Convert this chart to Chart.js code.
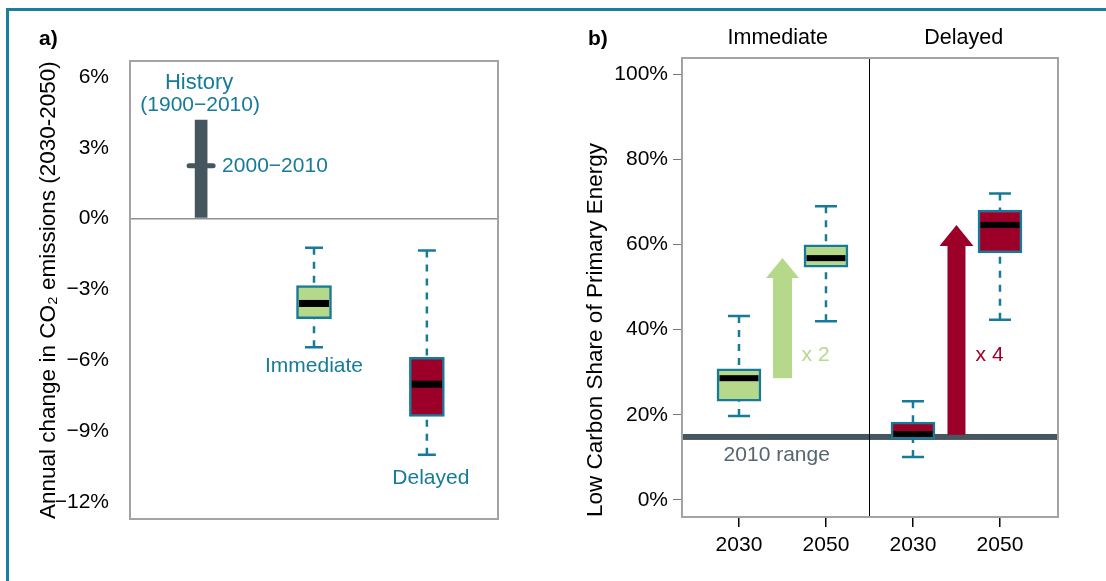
<!DOCTYPE html>
<html>
<head>
<meta charset="utf-8">
<script src="https://cdn.jsdelivr.net/npm/chart.js@4.4.1/dist/chart.umd.min.js"></script>
<style>
  html, body { margin: 0; padding: 0; background: #fff; }
  #frame { position: relative; width: 1106px; height: 581px; overflow: hidden; background: #fff; }
  #edge { position: absolute; left: 6px; top: 8px; right: -10px; bottom: -10px;
          border-top: 3px solid #1a7f9c; border-left: 3px solid #1a7f9c; }
  #panelA { position: absolute; left: 0; top: 0; }
  #panelB { position: absolute; left: 560px; top: 0; }
</style>
</head>
<body>
<div id="frame">
  <div id="edge"></div>
  <canvas id="panelA" width="560" height="581"></canvas>
  <canvas id="panelB" width="546" height="581"></canvas>
</div>
<script>
// a) annual change in CO2 emissions 2030-2050 (%)
const groupsA = ["Immediate", "Delayed"];
const posA = [2, 3];
const lowA = [-5.45, -10.0];
const q1A = [-4.23, -8.37];
const medA = [-3.59, -7.01];
const q3A = [-2.83, -5.87];
const highA = [-1.23, -1.35];
const historyRange = [0.05, 4.18];   // 1900-2010
const historyRecent = 2.24;          // 2000-2010
const yTicksA = [-12, -9, -6, -3, 0, 3, 6];

// b) low carbon share of primary energy (%)
const facetsB = ["Immediate", "Delayed"];
const posB = [1, 2, 3, 4];
const xLabelsB = ["2030", "2050", "2030", "2050"];
const lowB = [19.7, 42.0, 10.1, 42.3];
const q1B = [23.2, 54.7, 14.3, 58.0];
const medB = [28.6, 56.8, 15.5, 64.6];
const q3B = [30.8, 59.9, 18.3, 68.1];
const highB = [43.2, 69.0, 23.2, 72.0];
const range2010 = [14.1, 15.5];
const factorLabels = ["x 2", "x 4"];
const yTicksB = [0, 20, 40, 60, 80, 100];

const teal = "#167b98";
const green = "#b5d88b";
const red = "#9c0029";
const slate = "#46565f";
const frameGray = "#a3a3a3";
const FONT = "'Liberation Sans', Arial, Helvetica, sans-serif";

Chart.defaults.font.family = FONT;
Chart.defaults.font.size = 21;
Chart.defaults.color = "#000";

const pct = (v) => (v < 0 ? "\u2212" : "") + Math.abs(v) + "%";

function text(ctx, str, x, y, color, align, bold, size) {
  ctx.save();
  ctx.font = (bold ? "bold " : "") + (size || 21) + "px " + FONT;
  ctx.fillStyle = color;
  ctx.textAlign = align || "center";
  ctx.textBaseline = "middle";
  ctx.fillText(str, x, y);
  ctx.restore();
}

// dashed whiskers with caps, drawn from the cap towards the box
function whiskers(chart, xs, low, q1, q3, high, capW) {
  const { ctx, scales: { x, y } } = chart;
  ctx.save();
  ctx.strokeStyle = teal;
  ctx.lineWidth = 2.5;
  xs.forEach((v, i) => {
    const px = x.getPixelForValue(v);
    ctx.setLineDash([7, 7]);
    ctx.beginPath();
    ctx.moveTo(px, y.getPixelForValue(high[i]));
    ctx.lineTo(px, y.getPixelForValue(q3[i]));
    ctx.moveTo(px, y.getPixelForValue(low[i]));
    ctx.lineTo(px, y.getPixelForValue(q1[i]));
    ctx.stroke();
    ctx.setLineDash([]);
    ctx.beginPath();
    [low[i], high[i]].forEach((w) => {
      const py = y.getPixelForValue(w);
      ctx.moveTo(px - capW / 2, py);
      ctx.lineTo(px + capW / 2, py);
    });
    ctx.stroke();
  });
  ctx.restore();
}

function medians(chart, xs, med, boxW, thick) {
  const { ctx, scales: { x, y } } = chart;
  ctx.save();
  ctx.fillStyle = "#000";
  xs.forEach((v, i) => {
    const px = x.getPixelForValue(v);
    const py = y.getPixelForValue(med[i]);
    ctx.fillRect(px - boxW / 2 + 2.5, py - thick / 2, boxW - 5, thick);
  });
  ctx.restore();
}

function arrow(chart, xv, from, to, color, shaftW, headW, headL) {
  const { ctx, scales: { x, y } } = chart;
  const px = x.getPixelForValue(xv);
  const y0 = y.getPixelForValue(from);
  const y1 = y.getPixelForValue(to);
  ctx.save();
  ctx.fillStyle = color;
  ctx.fillRect(px - shaftW / 2, y1 + headL - 0.5, shaftW, y0 - y1 - headL + 0.5);
  ctx.beginPath();
  ctx.moveTo(px - headW / 2, y1 + headL);
  ctx.lineTo(px, y1);
  ctx.lineTo(px + headW / 2, y1 + headL);
  ctx.closePath();
  ctx.fill();
  ctx.restore();
}

function frameBox(chart) {
  const { ctx, chartArea: a } = chart;
  ctx.save();
  ctx.strokeStyle = frameGray;
  ctx.lineWidth = 2;
  ctx.strokeRect(a.left, a.top, a.right - a.left, a.bottom - a.top);
  ctx.restore();
}

// ---------- panel a ----------
const panelAPlugin = {
  id: "panelA",
  beforeDatasetsDraw(chart) {
    const { ctx, chartArea: a, scales: { y } } = chart;
    const py = y.getPixelForValue(0);
    ctx.save();
    ctx.strokeStyle = "#8f8f8f";
    ctx.lineWidth = 1.5;
    ctx.beginPath();
    ctx.moveTo(a.left, py);
    ctx.lineTo(a.right, py);
    ctx.stroke();
    ctx.restore();
    whiskers(chart, posA, lowA, q1A, q3A, highA, 18);
  },
  afterDatasetsDraw(chart) {
    const { ctx, scales: { x, y } } = chart;
    medians(chart, posA, medA, 35, 7);
    // 2000-2010 marker on the history bar
    const hx = x.getPixelForValue(1);
    const hy = y.getPixelForValue(historyRecent);
    ctx.save();
    ctx.strokeStyle = slate;
    ctx.lineWidth = 5;
    ctx.lineCap = "round";
    ctx.beginPath();
    ctx.moveTo(hx - 12, hy);
    ctx.lineTo(hx + 12, hy);
    ctx.stroke();
    ctx.restore();
    frameBox(chart);

    const top = y.getPixelForValue(historyRange[1]);
    text(ctx, "History", hx - 2, top - 37, teal, "center", false, 22);
    text(ctx, "(1900\u22122010)", hx - 1, top - 15, teal);
    text(ctx, "2000\u22122010", hx + 21, hy, teal, "left");
    text(ctx, groupsA[0], x.getPixelForValue(posA[0]), y.getPixelForValue(lowA[0]) + 19, teal);
    text(ctx, groupsA[1], x.getPixelForValue(posA[1]) + 4, y.getPixelForValue(lowA[1]) + 23, teal);
    text(ctx, "a)", 39, 39, "#000", "left", true);
  }
};

new Chart(document.getElementById("panelA"), {
  type: "bar",
  data: {
    datasets: [
      {
        data: [{ x: 1, y: historyRange }],
        backgroundColor: slate,
        borderWidth: 0,
        barThickness: 12,
        grouped: false
      },
      {
        data: posA.map((p, i) => ({ x: p, y: [q1A[i], q3A[i]] })),
        backgroundColor: [green, red],
        borderColor: teal,
        borderWidth: 2.5,
        borderSkipped: false,
        barThickness: 35,
        grouped: false
      }
    ]
  },
  options: {
    responsive: false,
    animation: false,
    layout: { padding: { left: 0, top: 61, right: 62, bottom: 62 } },
    plugins: { legend: { display: false }, tooltip: { enabled: false } },
    scales: {
      x: { type: "linear", min: 0.37, max: 3.63, offset: false, grid: { offset: false }, display: false },
      y: {
        min: -12.72,
        max: 6.68,
        afterBuildTicks: (s) => { s.ticks = yTicksA.map((v) => ({ value: v })); },
        afterFit: (s) => { s.width = 130; },
        grid: { display: false },
        border: { display: false },
        ticks: { padding: 13, callback: (v) => pct(v), font: { size: 21 }, color: "#000" },
        title: {
          display: true,
          text: "Annual change in CO\u2082 emissions (2030-2050)",
          align: "start",
          padding: { top: 35, bottom: 0 },
          font: { size: 22.5 },
          color: "#000"
        }
      }
    }
  },
  plugins: [panelAPlugin]
});

// ---------- panel b ----------
const panelBPlugin = {
  id: "panelB",
  beforeDatasetsDraw(chart) {
    const { ctx, chartArea: a, scales: { x, y } } = chart;
    // 2010 range band
    const b0 = y.getPixelForValue(range2010[0]);
    const b1 = y.getPixelForValue(range2010[1]);
    ctx.save();
    ctx.fillStyle = slate;
    ctx.fillRect(a.left, b1, a.right - a.left, b0 - b1);
    // facet divider
    const dx = Math.round(x.getPixelForValue(2.5)) + 0.5;
    ctx.strokeStyle = "#000";
    ctx.lineWidth = 1;
    ctx.beginPath();
    ctx.moveTo(dx, a.top);
    ctx.lineTo(dx, a.bottom);
    ctx.stroke();
    ctx.restore();
    whiskers(chart, posB, lowB, q1B, q3B, highB, 22);
    arrow(chart, 1.5, medB[0], medB[1], green, 19, 33, 20);
    arrow(chart, 3.5, medB[2] - 0.2, medB[3], red, 18, 34, 21);
  },
  afterDatasetsDraw(chart) {
    const { ctx, chartArea: a, scales: { x, y } } = chart;
    medians(chart, posB, medB, 44, 6);
    frameBox(chart);
    const mid = x.getPixelForValue(2.5);
    text(ctx, facetsB[0], (a.left + mid) / 2 + 2, 38, "#000", "center", false, 21.5);
    text(ctx, facetsB[1], (mid + a.right) / 2, 38, "#000", "center", false, 21.5);
    text(ctx, "b)", 28, 39, "#000", "left", true);
    text(ctx, "2010 range", (a.left + mid) / 2 + 1, y.getPixelForValue(range2010[1]) + 21, "#56656e");
    text(ctx, factorLabels[0], x.getPixelForValue(1.72), y.getPixelForValue(34), green, "left");
    text(ctx, factorLabels[1], x.getPixelForValue(3.72), y.getPixelForValue(34), red, "left");
  }
};

new Chart(document.getElementById("panelB"), {
  type: "bar",
  data: {
    datasets: [
      {
        data: posB.map((p, i) => ({ x: p, y: [q1B[i], q3B[i]] })),
        backgroundColor: [green, green, red, red],
        borderColor: teal,
        borderWidth: 2.5,
        borderSkipped: false,
        barThickness: 44,
        grouped: false
      }
    ]
  },
  options: {
    responsive: false,
    animation: false,
    layout: { padding: { left: 0, top: 58, right: 48, bottom: 0 } },
    plugins: { legend: { display: false }, tooltip: { enabled: false } },
    scales: {
      x: {
        type: "linear",
        min: 0.345,
        max: 4.667,
        offset: false,
        afterBuildTicks: (s) => { s.ticks = posB.map((v) => ({ value: v })); },
        afterFit: (s) => { s.height = 64; },
        grid: { offset: false, drawOnChartArea: false, tickLength: 10, color: "#000", lineWidth: 1.5 },
        border: { display: false },
        ticks: { padding: 6, autoSkip: false, maxRotation: 0,
                 callback: (v) => xLabelsB[posB.indexOf(v)] || "", font: { size: 21 }, color: "#000" }
      },
      y: {
        min: -4,
        max: 103.8,
        afterBuildTicks: (s) => { s.ticks = yTicksB.map((v) => ({ value: v })); },
        afterFit: (s) => { s.width = 122; },
        grid: { drawOnChartArea: false, tickLength: 9, color: "#777", lineWidth: 1 },
        border: { display: false },
        ticks: { padding: 5, callback: (v) => v + "%", font: { size: 21 }, color: "#000" },
        title: {
          display: true,
          text: "Low Carbon Share of Primary Energy",
          align: "start",
          padding: { top: 22.5, bottom: 0 },
          font: { size: 22.5 },
          color: "#000"
        }
      }
    }
  },
  plugins: [panelBPlugin]
});
</script>
</body>
</html>
